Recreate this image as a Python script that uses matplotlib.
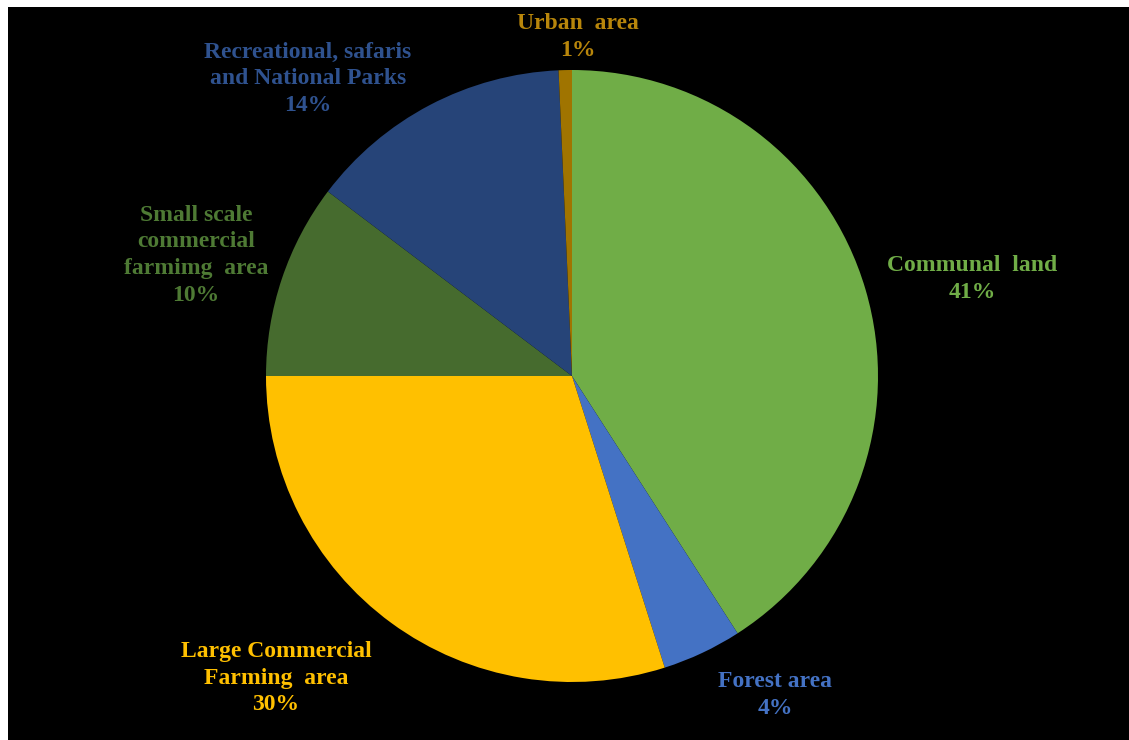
import matplotlib.pyplot as plt
from matplotlib.patches import Rectangle

labels = ['Communal  land', 'Forest area', 'Large Commercial\nFarming  area',
          'Small scale\ncommercial\nfarmimg  area', 'Recreational, safaris\nand National Parks',
          'Urban  area']
shares = [40.9, 4.2, 29.9, 10.3, 14.0, 0.7]
pct_text = ['41%', '4%', '30%', '10%', '14%', '1%']
colors = ['#70AD47', '#4472C4', '#FFC000', '#466B2E', '#264478', '#A07400']
text_colors = ['#70AD47', '#4472C4', '#FFC000', '#4E7A34', '#2F528F', '#B8860B']
# label centres in pie-radius units
label_pos = [(1.307, 0.317), (0.663, -1.042), (-0.967, -0.987),
             (-1.229, 0.395), (-0.863, 0.971), (0.02, 1.108)]

fig = plt.figure(figsize=(11.29, 7.4), dpi=100)
fig.patch.set_facecolor('black')
# white strips at top and left edges
fig.add_artist(Rectangle((0, 0), 8 / 1129, 1, transform=fig.transFigure,
                         facecolor='white', edgecolor='none'))
fig.add_artist(Rectangle((0, 1 - 7 / 740), 1, 7 / 740, transform=fig.transFigure,
                         facecolor='white', edgecolor='none'))

ax = fig.add_axes([(572 - 306) / 1129, (740 - 376 - 306) / 740, 612 / 1129, 612 / 740])
ax.set_facecolor('black')
ax.pie(shares, colors=colors, startangle=90, counterclock=False, radius=1,
       wedgeprops=dict(linewidth=0))
ax.set_xlim(-1, 1)
ax.set_ylim(-1, 1)
ax.set_aspect('equal')
ax.axis('off')

for lab, pct, (x, y), c in zip(labels, pct_text, label_pos, text_colors):
    ax.text(x, y, lab + '\n' + pct, ha='center', va='center', color=c,
            fontsize=17, fontweight='bold', family='Liberation Serif',
            linespacing=1.35, clip_on=False)

fig.savefig('out.png', dpi=100, facecolor=fig.get_facecolor())
